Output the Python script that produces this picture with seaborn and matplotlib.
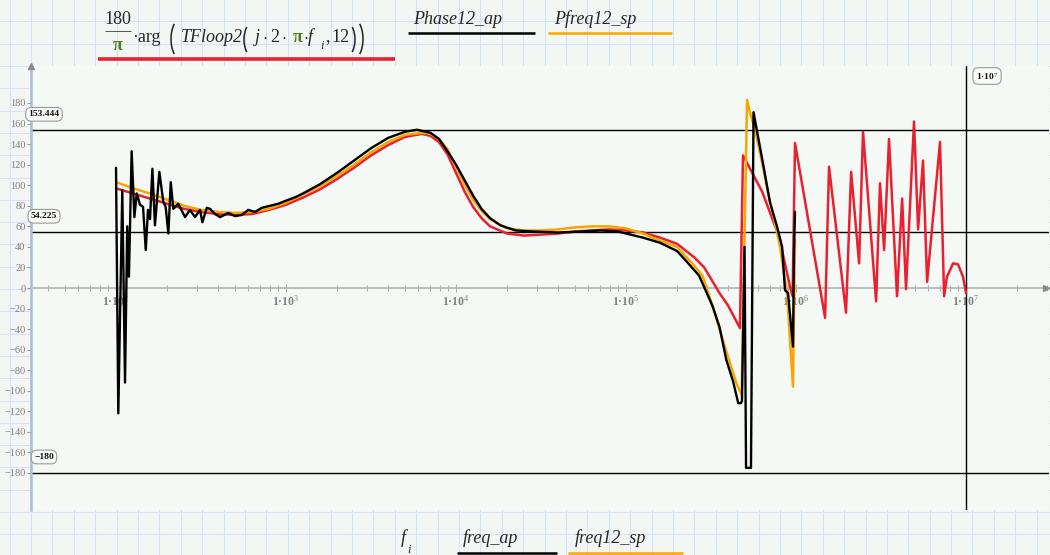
import numpy as np
import matplotlib
matplotlib.use("Agg")
import matplotlib.pyplot as plt
import seaborn as sns
from matplotlib.lines import Line2D
from matplotlib.patches import Arc
from matplotlib.transforms import IdentityTransform
from matplotlib.ticker import LogLocator, NullFormatter, FixedLocator

# ---------------- data ----------------
red_log10_f = [2.0, 2.1, 2.2, 2.3, 2.4, 2.5, 2.6, 2.7, 2.8, 2.9, 3.0, 3.1, 3.2, 3.3, 3.4, 3.5, 3.6, 3.7, 3.8,
               3.85, 3.9, 3.95, 4.0, 4.05, 4.1, 4.15, 4.2,
               4.3, 4.4, 4.5, 4.6, 4.7, 4.8, 4.9, 5.0, 5.1, 5.2, 5.3,
               5.4, 5.46, 5.55, 5.6, 5.67, 5.688,
               5.8, 5.9, 5.965, 5.98, 5.994,
               6.171, 6.194, 6.294, 6.324, 6.371, 6.394, 6.471, 6.494, 6.518, 6.547, 6.594, 6.624,
               6.647, 6.694, 6.718, 6.747, 6.771, 6.847, 6.871, 6.888, 6.924, 6.953, 6.982, 7.0]
red_phase = [97, 92, 87, 82, 77, 74, 72, 71, 72, 76, 81, 88, 96, 106, 117, 129, 139, 147, 150,
             148, 142, 130, 112, 94, 79, 68, 60,
             53, 51, 52, 53, 55, 56, 57, 56, 54, 49, 43,
             30, 20, -5, -17, -39, 129,
             94, 50, 1, -8, 141,
             -29, 118, -24, 113, 24, 152, -13, 102, 37, 145, -8, 87,
             -1, 162, 57, 124, 6, 142, -8, 11, 24, 23, 11, -5]

orange_log10_f = [2.0, 2.1, 2.2, 2.3, 2.4, 2.5, 2.6, 2.7, 2.8, 2.9, 3.0, 3.1, 3.2, 3.3, 3.4, 3.5, 3.6, 3.7, 3.8,
                  3.85, 3.9, 3.95, 4.0, 4.05, 4.1, 4.15, 4.2,
                  4.3, 4.4, 4.5, 4.6, 4.7, 4.8, 4.9, 5.0, 5.1, 5.2, 5.3,
                  5.4, 5.45, 5.5, 5.55, 5.6, 5.65, 5.68,
                  5.712, 5.73, 5.759, 5.8, 5.829, 5.87, 5.906, 5.947, 5.982, 5.994]
orange_phase = [103, 97, 92, 86, 80, 76, 74, 73, 74, 77, 83, 91, 99, 109, 120, 132, 142, 149, 151,
                150, 145, 135, 118, 101, 86, 75, 67,
                58, 56, 56, 57, 59, 60, 60, 58, 53, 46, 40,
                22, 12, -13, -40, -67, -93, -104,
                183, 170, 154, 122, 98, 68, 40, -5, -96, 47]

black_log10_f = [2.0, 2.0135, 2.037, 2.053, 2.066, 2.076, 2.092, 2.108, 2.122, 2.141,
                 2.159, 2.175, 2.188, 2.2, 2.214, 2.229, 2.255, 2.278, 2.292, 2.308,
                 2.322, 2.337, 2.366, 2.406, 2.435, 2.465, 2.494, 2.508, 2.534, 2.553,
                 2.582, 2.612, 2.661, 2.7, 2.739, 2.778, 2.818, 2.857, 2.906, 2.955,
                 3.0, 3.05, 3.1, 3.2, 3.3, 3.4, 3.5, 3.6, 3.7, 3.77,
                 3.85, 3.9, 3.95, 4.0, 4.05, 4.1, 4.15, 4.2, 4.26, 4.35,
                 4.45, 4.6, 4.75, 4.85, 4.95, 5.0, 5.1, 5.2, 5.3, 5.35,
                 5.43, 5.51, 5.55, 5.59, 5.63, 5.66, 5.676, 5.682, 5.697, 5.706,
                 5.735, 5.75, 5.806, 5.847, 5.888, 5.918, 5.935, 5.953, 5.982, 5.988,
                 5.994]
black_phase = [117, -122, 95, -92, 60, 11, 133, 69, 92, 81,
               79, 37, 76, 67, 116, 61, 113, 84, 79, 53,
               103, 77, 82, 69, 76, 69, 76, 64, 78, 77,
               72, 69, 73, 70, 71, 76, 74, 78, 80, 82,
               85, 88, 92, 101, 112, 124, 136, 146, 152, 154,
               151, 145, 133, 120, 105, 90, 77, 68, 61, 56,
               55, 54, 55, 56, 55, 53, 49, 44, 36, 27,
               12, -18, -38, -70, -91, -112, -112, -110, 40, -175,
               -175, 171, 121, 83, 60, 40, -2, -5, -57, 35,
               74]

hmarker_values = [153.444, 54.225, -180]
hmarker_labels = ["153.444", "54.225", "\u2212180"]
vmarker_value = 1e7
vmarker_label = "1\u00b710$^{7}$"

xtick_values = [1e2, 1e3, 1e4, 1e5, 1e6, 1e7]
xtick_labels = ["1\u00b710$^{2}$", "1\u00b710$^{3}$", "1\u00b710$^{4}$",
                "1\u00b710$^{5}$", "1\u00b710$^{6}$", "1\u00b710$^{7}$"]
ytick_values = list(range(-180, 181, 20))
ytick_labels = [str(v).replace("-", "\u2212") for v in ytick_values]

# ---------------- style ----------------
RED = "#e8202f"
ORANGE = "#f7a600"
BLACK = "#000000"
GREEN = "#4f7a1a"
BG = "#f3f7f4"
PLOTBG = "#f5f9f6"
GRID = "#d3e3f3"

sns.set_theme(style="white")
plt.rcParams['font.family'] = ['Liberation Serif', 'DejaVu Serif']
plt.rcParams['mathtext.fontset'] = 'custom'
plt.rcParams['mathtext.rm'] = 'Liberation Serif'
plt.rcParams['mathtext.it'] = 'Liberation Serif:italic'
plt.rcParams['mathtext.bf'] = 'Liberation Serif:bold'

W, H = 1050, 555
fig = plt.figure(figsize=(W / 100, H / 100), dpi=100, facecolor=BG)

# worksheet grid
for gx in np.arange(9.5, W, 21.4):
    fig.add_artist(Line2D([gx / W, gx / W], [0, 1], transform=fig.transFigure,
                          color=GRID, lw=0.8, zorder=-10))
for gy in np.arange(66 - 22.3 * 3, H, 22.3):
    fig.add_artist(Line2D([0, 1], [1 - gy / H, 1 - gy / H], transform=fig.transFigure,
                          color=GRID, lw=0.8, zorder=-10))

ax_left, ax_right, ax_top, ax_bot = 31, 1049, 66, 510
ax = fig.add_axes([ax_left / W, 1 - ax_bot / H, (ax_right - ax_left) / W, (ax_bot - ax_top) / H])
ax.set_facecolor(PLOTBG)
ax.set_xscale('log')
ax.set_xlim(10 ** 1.5, 10 ** 7.488)
ax.set_ylim(-216, 216)

# series
sns.lineplot(x=10 ** np.array(red_log10_f), y=red_phase, ax=ax, color=RED, lw=1.8,
             sort=False, estimator=None, zorder=3)
sns.lineplot(x=10 ** np.array(orange_log10_f), y=orange_phase, ax=ax, color=ORANGE, lw=1.8,
             sort=False, estimator=None, zorder=4)
sns.lineplot(x=10 ** np.array(black_log10_f), y=black_phase, ax=ax, color=BLACK, lw=1.7,
             sort=False, estimator=None, zorder=5)

# marker lines
for v, lab in zip(hmarker_values, hmarker_labels):
    ax.axhline(v, color="black", lw=1.0, zorder=2)
    ax.annotate(lab, xy=(0, v), xycoords=ax.get_yaxis_transform(),
                xytext=(13, 16), textcoords='offset pixels', ha='center', va='center',
                fontsize=6.8, fontweight='bold', color='#111111', zorder=10,
                bbox=dict(boxstyle='round,pad=0.3,rounding_size=0.6', fc='#f8fbf8', ec='#9a9a9a', lw=0.8))
ax.axvline(vmarker_value, color="black", lw=1.0, zorder=2)
ax.annotate(vmarker_label, xy=(vmarker_value, 1), xycoords=ax.get_xaxis_transform(),
            xytext=(21, -10), textcoords='offset pixels', ha='center', va='center',
            fontsize=6.8, fontweight='bold', color='#111111', zorder=10, annotation_clip=False,
            bbox=dict(boxstyle='round,pad=0.3,rounding_size=0.6', fc='#f8fbf8', ec='#9a9a9a', lw=0.8))

# axes styling
for s in ['top', 'right']:
    ax.spines[s].set_visible(False)
ax.spines['bottom'].set_position(('data', 0))
ax.spines['bottom'].set_color('#b8b8b8')
ax.spines['bottom'].set_linewidth(1.3)
ax.spines['bottom'].set_zorder(1)
ax.spines['left'].set_color('#aabdd0')
ax.spines['left'].set_linewidth(1.8)

ax.xaxis.set_major_locator(FixedLocator(xtick_values))
ax.set_xticklabels(xtick_labels)
ax.xaxis.set_minor_locator(LogLocator(base=10, subs=np.arange(2, 10)))
ax.xaxis.set_minor_formatter(NullFormatter())
ax.tick_params(axis='x', which='major', direction='inout', length=6, width=0.8, color='#aaaaaa',
               labelsize=8.5, labelcolor='#808080', pad=1, bottom=True)
ax.tick_params(axis='x', which='minor', direction='inout', length=5, width=0.8, color='#aaaaaa', bottom=True)
for t in ax.get_xticklabels():
    t.set_fontweight('bold')

ax.set_yticks(ytick_values)
ax.set_yticklabels(ytick_labels)
ax.tick_params(axis='y', direction='out', length=3, width=0.8, color='#999999',
               labelsize=7.5, labelcolor='#808080', pad=1, left=True)
ax.set_xlabel("")
ax.set_ylabel("")
ax.grid(False)

# arrowheads
ax.plot([0], [1], marker='^', color='#8a8a8a', markersize=5, transform=ax.transAxes, clip_on=False, zorder=6)
ax.plot([0.997], [0], marker='>', color='#8a8a8a', markersize=5, transform=ax.get_yaxis_transform(),
        clip_on=False, zorder=6)

# ---------------- legend-like labels (Mathcad style) ----------------
def ftext(x, y, s, **kw):
    kw.setdefault('va', 'center')
    kw.setdefault('ha', 'left')
    fig.text(x / W, 1 - y / H, s, **kw)

def fline(x0, x1, y, color, lw):
    fig.add_artist(Line2D([x0 / W, x1 / W], [1 - y / H, 1 - y / H], transform=fig.transFigure,
                          color=color, lw=lw, solid_capstyle='butt'))

def paren(x_tip, y0, y1, side, depth=6):
    """thin tall parenthesis; x_tip = outermost x of the bulge (pixels, top-left origin)"""
    h = y1 - y0
    a = 2 * depth
    b = (h / 2) / np.sin(np.radians(60))
    cy = H - (y0 + y1) / 2
    if side == 'left':
        cx = x_tip + a
        t1, t2 = 120, 240
    else:
        cx = x_tip - a
        t1, t2 = -60, 60
    fig.add_artist(Arc((cx, cy), 2 * a, 2 * b, theta1=t1, theta2=t2, transform=IdentityTransform(),
                       color='#222222', lw=1.1))

FS = 13
ftext(118, 19, "180", fontsize=FS, ha='center')
fline(105, 131, 31, '#555555', 0.7)
ftext(118, 46, "\u03c0", fontsize=FS, ha='center', color=GREEN, fontweight='bold')
ftext(132, 37, "\u00b7arg", fontsize=FS)
paren(171, 20, 58, 'left', depth=6)
ftext(181, 37, "TFloop2", fontsize=FS, style='italic')
paren(244, 24, 55, 'left', depth=5)
ftext(253, 37, r"$j\cdot2\cdot$", fontsize=FS)
ftext(293, 37, "\u03c0", fontsize=FS, color=GREEN, fontweight='bold')
ftext(303, 37, r"$\cdot f$", fontsize=FS)
ftext(320, 46, "i", fontsize=9, style='italic')
ftext(325, 37, ",", fontsize=FS)
ftext(331, 37, "12", fontsize=FS)
paren(355, 24, 55, 'right', depth=5)
paren(363, 20, 58, 'right', depth=6)
fline(98, 395, 59, RED, 2.6)

ftext(413, 19, "Phase12_ap", fontsize=FS, style='italic')
fline(408, 535, 33, BLACK, 1.8)
ftext(554, 19, "Pfreq12_sp", fontsize=FS, style='italic')
fline(548, 672, 33, ORANGE, 1.8)

ftext(401, 538, "f", fontsize=FS, style='italic')
ftext(407, 550, "i", fontsize=9, style='italic')
ftext(463, 538, "freq_ap", fontsize=FS, style='italic')
fline(457, 557, 553, BLACK, 1.8)
ftext(575, 538, "freq12_sp", fontsize=FS, style='italic')
fline(568, 683, 553, ORANGE, 1.8)

fig.savefig("out.png", dpi=100, facecolor=BG)
